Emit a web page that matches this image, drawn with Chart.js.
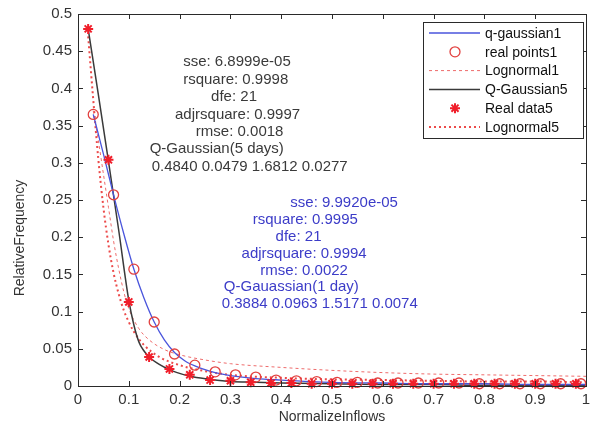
<!DOCTYPE html>
<html>
<head>
<meta charset="utf-8">
<script src="https://cdn.jsdelivr.net/npm/chart.js@4.4.0/dist/chart.umd.min.js"></script>
<style>
  html, body { margin: 0; padding: 0; background: #fff; }
</style>
</head>
<body>
<canvas id="myChart" width="593" height="426"></canvas>
<script>
// fitted curves and measured frequencies (x = normalized inflow)
const qGaussian1X = [0.03, 0.05, 0.07, 0.09, 0.11, 0.13, 0.15, 0.17, 0.19, 0.21, 0.23, 0.25, 0.27, 0.30, 0.35, 0.40, 0.50, 0.60, 0.70, 0.80, 0.90, 1.00];
const qGaussian1Y = [0.365, 0.312, 0.257, 0.205, 0.157, 0.118, 0.086, 0.062, 0.045, 0.034, 0.027, 0.022, 0.018, 0.014, 0.010, 0.008, 0.005, 0.004, 0.003, 0.003, 0.002, 0.002];

const realPoints1X = [0.03, 0.07, 0.11, 0.15, 0.19, 0.23, 0.27, 0.31, 0.35, 0.39, 0.43, 0.47, 0.51, 0.55, 0.59, 0.63, 0.67, 0.71, 0.75, 0.79, 0.83, 0.87, 0.91, 0.95, 0.99];
const realPoints1Y = [0.365, 0.257, 0.157, 0.086, 0.043, 0.028, 0.019, 0.015, 0.012, 0.008, 0.007, 0.006, 0.005, 0.005, 0.004, 0.004, 0.004, 0.004, 0.004, 0.003, 0.003, 0.003, 0.003, 0.003, 0.003];

const lognormal1X = [0.03, 0.04, 0.05, 0.06, 0.07, 0.08, 0.09, 0.10, 0.12, 0.14, 0.17, 0.20, 0.25, 0.30, 0.40, 0.50, 0.60, 0.70, 0.80, 0.90, 1.00];
const lognormal1Y = [0.370, 0.330, 0.285, 0.240, 0.195, 0.158, 0.127, 0.104, 0.077, 0.062, 0.049, 0.042, 0.035, 0.030, 0.025, 0.021, 0.018, 0.016, 0.015, 0.014, 0.013];

const qGaussian5X = [0.02, 0.04, 0.06, 0.08, 0.10, 0.11, 0.12, 0.13, 0.14, 0.16, 0.18, 0.20, 0.22, 0.26, 0.30, 0.35, 0.40, 0.50, 0.60, 0.70, 0.80, 0.90, 1.00];
const qGaussian5Y = [0.480, 0.392, 0.302, 0.210, 0.115, 0.082, 0.059, 0.047, 0.039, 0.029, 0.022, 0.017, 0.013, 0.009, 0.006, 0.005, 0.004, 0.003, 0.002, 0.002, 0.001, 0.001, 0.001];

const realData5X = [0.02, 0.06, 0.10, 0.14, 0.18, 0.22, 0.26, 0.30, 0.34, 0.38, 0.42, 0.46, 0.50, 0.54, 0.58, 0.62, 0.66, 0.70, 0.74, 0.78, 0.82, 0.86, 0.90, 0.94, 0.98];
const realData5Y = [0.480, 0.304, 0.113, 0.039, 0.023, 0.015, 0.008, 0.007, 0.005, 0.004, 0.004, 0.003, 0.003, 0.003, 0.003, 0.003, 0.003, 0.003, 0.003, 0.003, 0.003, 0.003, 0.003, 0.003, 0.003];

const lognormal5X = [0.02, 0.03, 0.04, 0.05, 0.06, 0.07, 0.08, 0.09, 0.10, 0.11, 0.13, 0.16, 0.20, 0.25, 0.30, 0.40, 0.50, 0.60, 0.70, 0.80, 0.90, 1.00];
const lognormal5Y = [0.470, 0.385, 0.305, 0.240, 0.190, 0.152, 0.124, 0.102, 0.086, 0.073, 0.055, 0.039, 0.028, 0.020, 0.015, 0.011, 0.009, 0.008, 0.007, 0.006, 0.006, 0.005];

const xTicks = [0, 0.1, 0.2, 0.3, 0.4, 0.5, 0.6, 0.7, 0.8, 0.9, 1];
const yTicks = [0, 0.05, 0.1, 0.15, 0.2, 0.25, 0.3, 0.35, 0.4, 0.45, 0.5];

const fit5Lines = ["sse: 6.8999e-05", "rsquare: 0.9998", "dfe: 21", "adjrsquare: 0.9997", "rmse: 0.0018", "Q-Gaussian(5 days)", "0.4840 0.0479 1.6812 0.0277"];
const fit1Lines = ["sse: 9.9920e-05", "rsquare: 0.9995", "dfe: 21", "adjrsquare: 0.9994", "rmse: 0.0022", "Q-Gauassian(1 day)", "0.3884 0.0963 1.5171 0.0074"];

const FONT = '"Liberation Sans", Arial, Helvetica, sans-serif';

const toPoints = (xs, ys) => xs.map((x, i) => ({ x, y: ys[i] }));

// where each stats line starts, in axis units
const fit5Pos = [[0.207, 0.4355], [0.207, 0.4113], [0.262, 0.3884], [0.191, 0.3642], [0.232, 0.3414], [0.141, 0.3185], [0.145, 0.2944]];
const fit1Pos = [[0.418, 0.2460], [0.344, 0.2231], [0.389, 0.2002], [0.322, 0.1774], [0.359, 0.1546], [0.287, 0.1331], [0.283, 0.1102]];

const textPlugin = {
  id: "fitText",
  afterDatasetsDraw(chart) {
    const ctx = chart.ctx;
    const xs = chart.scales.x;
    const ys = chart.scales.y;
    ctx.save();
    ctx.font = "15px " + FONT;
    ctx.textBaseline = "middle";
    ctx.textAlign = "left";
    ctx.fillStyle = "#3a3a3a";
    fit5Lines.forEach((t, i) => {
      ctx.fillText(t, xs.getPixelForValue(fit5Pos[i][0]), ys.getPixelForValue(fit5Pos[i][1]));
    });
    ctx.fillStyle = "#3c3cc8";
    fit1Lines.forEach((t, i) => {
      ctx.fillText(t, xs.getPixelForValue(fit1Pos[i][0]), ys.getPixelForValue(fit1Pos[i][1]));
    });
    ctx.restore();
  },
};

function drawMarker(ctx, style, color, x, y, r) {
  ctx.save();
  ctx.strokeStyle = color;
  ctx.lineWidth = style === "star" ? 2 : 1.3;
  ctx.setLineDash([]);
  ctx.beginPath();
  if (style === "circle") {
    ctx.arc(x, y, r, 0, Math.PI * 2);
  } else {
    for (let k = 0; k < 4; k++) {
      const a = (k * Math.PI) / 4;
      ctx.moveTo(x - Math.cos(a) * r, y - Math.sin(a) * r);
      ctx.lineTo(x + Math.cos(a) * r, y + Math.sin(a) * r);
    }
  }
  ctx.stroke();
  ctx.restore();
}

// box, inward ticks, axis titles and the legend
const framePlugin = {
  id: "frame",
  afterDraw(chart) {
    const ctx = chart.ctx;
    const a = chart.chartArea;
    const xs = chart.scales.x;
    const ys = chart.scales.y;
    ctx.save();
    ctx.strokeStyle = "#2a2a2a";
    ctx.lineWidth = 1;
    ctx.strokeRect(a.left + 0.5, a.top + 0.5, a.right - a.left, a.bottom - a.top);
    ctx.beginPath();
    xTicks.forEach((v) => {
      const px = Math.round(xs.getPixelForValue(v)) + 0.5;
      ctx.moveTo(px, a.bottom); ctx.lineTo(px, a.bottom - 5);
      ctx.moveTo(px, a.top); ctx.lineTo(px, a.top + 5);
    });
    yTicks.forEach((v) => {
      const py = Math.round(ys.getPixelForValue(v)) + 0.5;
      ctx.moveTo(a.left, py); ctx.lineTo(a.left + 5, py);
      ctx.moveTo(a.right, py); ctx.lineTo(a.right - 5, py);
    });
    ctx.stroke();

    ctx.fillStyle = "#333";
    ctx.font = "14px " + FONT;
    ctx.textAlign = "center";
    ctx.textBaseline = "middle";
    ctx.fillText("NormalizeInflows", (a.left + a.right) / 2, 417);
    ctx.save();
    ctx.translate(20, 238);
    ctx.rotate(-Math.PI / 2);
    ctx.fillText("RelativeFrequency", 0, 0);
    ctx.restore();

    // legend box in the upper right corner
    const bx = a.right - 163, by = a.top + 8, bw = 160, bh = 116;
    ctx.fillStyle = "#fff";
    ctx.fillRect(bx, by, bw, bh);
    ctx.strokeStyle = "#2a2a2a";
    ctx.strokeRect(bx + 0.5, by + 0.5, bw, bh);
    ctx.textAlign = "left";
    ctx.font = "14px " + FONT;
    chart.data.datasets.forEach((ds, i) => {
      const ly = by + 11 + i * 18.8;
      if (ds.showLine !== false) {
        ctx.save();
        ctx.strokeStyle = ds.borderColor;
        ctx.lineWidth = ds.borderWidth;
        ctx.setLineDash(ds.borderDash || []);
        ctx.beginPath();
        ctx.moveTo(bx + 6, ly);
        ctx.lineTo(bx + 57, ly);
        ctx.stroke();
        ctx.restore();
      } else {
        drawMarker(ctx, ds.pointStyle, ds.pointBorderColor, bx + 32, ly, ds.pointRadius);
      }
      ctx.fillStyle = "#111";
      ctx.fillText(ds.label, bx + 62, ly + 1);
    });
    ctx.restore();
  },
};

const tickLabel = (v) => String(Number(v.toFixed(2)));

new Chart(document.getElementById("myChart"), {
  type: "line",
  data: {
    datasets: [
      {
        label: "q-gaussian1",
        data: toPoints(qGaussian1X, qGaussian1Y),
        borderColor: "#4a55dc",
        borderWidth: 1.3,
        pointRadius: 0,
        cubicInterpolationMode: "monotone",
        order: 3,
      },
      {
        label: "real points1",
        data: toPoints(realPoints1X, realPoints1Y),
        showLine: false,
        pointStyle: "circle",
        pointRadius: 5,
        pointBorderColor: "#e2403f",
        pointBackgroundColor: "rgba(0,0,0,0)",
        pointBorderWidth: 1.3,
        borderColor: "#e2403f",
        clip: false,
        order: 2,
      },
      {
        label: "Lognormal1",
        data: toPoints(lognormal1X, lognormal1Y),
        borderColor: "#ee6b6b",
        borderWidth: 1,
        borderDash: [3, 3],
        pointRadius: 0,
        cubicInterpolationMode: "monotone",
        order: 5,
      },
      {
        label: "Q-Gaussian5",
        data: toPoints(qGaussian5X, qGaussian5Y),
        borderColor: "#3a3a3a",
        borderWidth: 1.5,
        pointRadius: 0,
        cubicInterpolationMode: "monotone",
        order: 4,
      },
      {
        label: "Real data5",
        data: toPoints(realData5X, realData5Y),
        showLine: false,
        pointStyle: "star",
        pointRadius: 5,
        pointBorderColor: "#f01e2a",
        pointBorderWidth: 2,
        borderColor: "#f01e2a",
        clip: false,
        order: 1,
      },
      {
        label: "Lognormal5",
        data: toPoints(lognormal5X, lognormal5Y),
        borderColor: "#ec4a4a",
        borderWidth: 2,
        borderDash: [2, 3],
        pointRadius: 0,
        cubicInterpolationMode: "monotone",
        order: 6,
      },
    ],
  },
  options: {
    responsive: false,
    animation: false,
    layout: { padding: { top: 14, right: 3, left: 0, bottom: 0 } },
    plugins: { legend: { display: false }, tooltip: { enabled: false } },
    scales: {
      x: {
        type: "linear",
        min: 0,
        max: 1,
        grid: { display: false },
        border: { display: false },
        afterFit: (s) => { s.height = 40; },
        afterBuildTicks: (s) => { s.ticks = xTicks.map((v) => ({ value: v })); },
        ticks: { callback: tickLabel, padding: -3, maxRotation: 0, color: "#333", font: { size: 15, family: FONT } },
      },
      y: {
        min: 0,
        max: 0.5,
        grid: { display: false },
        border: { display: false },
        afterFit: (s) => { s.width = 78; },
        afterBuildTicks: (s) => { s.ticks = yTicks.map((v) => ({ value: v })); },
        ticks: { callback: tickLabel, padding: -2, color: "#333", font: { size: 15, family: FONT } },
      },
    },
  },
  plugins: [textPlugin, framePlugin],
});
</script>
</body>
</html>
